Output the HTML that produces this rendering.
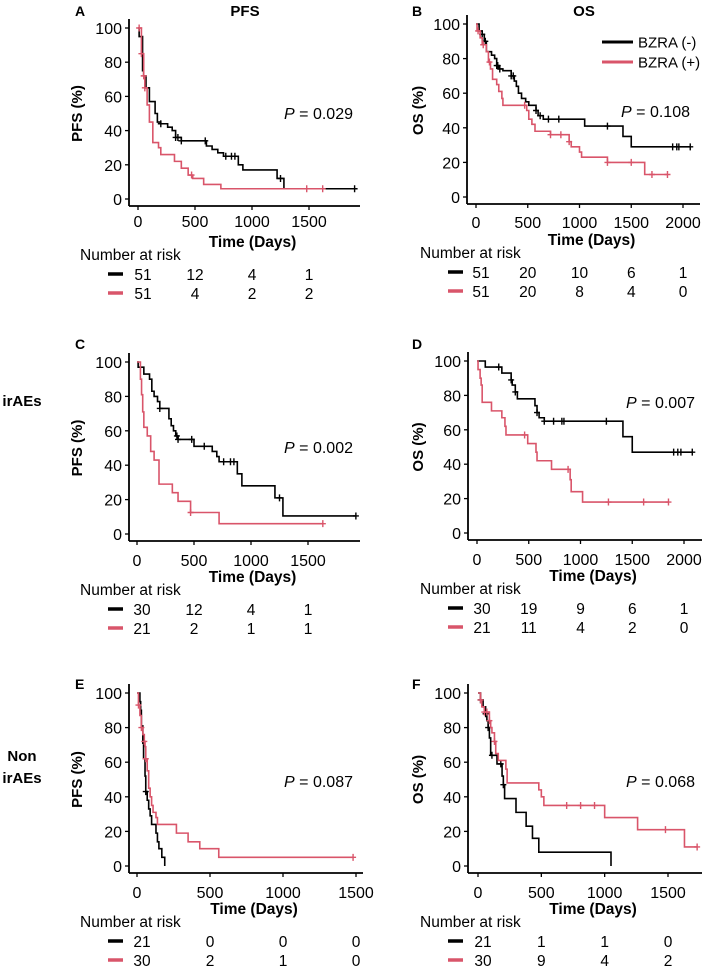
<!DOCTYPE html>
<html><head><meta charset="utf-8"><style>
html,body{margin:0;padding:0;background:#fff}
svg{display:block;font-family:"Liberation Sans",Arial,sans-serif}
</style></head><body>
<svg id="fig" width="709" height="969" viewBox="0 0 709 969" xmlns="http://www.w3.org/2000/svg">
<text x="245" y="16" text-anchor="middle" font-size="15" font-weight="bold">PFS</text>
<text x="584" y="16" text-anchor="middle" font-size="15" font-weight="bold">OS</text>
<text x="22" y="406" text-anchor="middle" font-size="15" font-weight="bold">irAEs</text>
<text x="22" y="761" text-anchor="middle" font-size="15" font-weight="bold">Non</text>
<text x="22" y="783" text-anchor="middle" font-size="15" font-weight="bold">irAEs</text>
<g>
<line x1="602" y1="42" x2="633" y2="42" stroke="#000" stroke-width="3"/>
<text x="638" y="47.5" font-size="15">BZRA (-)</text>
<line x1="602" y1="62" x2="633" y2="62" stroke="#d9556a" stroke-width="3"/>
<text x="638" y="67.5" font-size="15">BZRA (+)</text>
</g>
</svg>
<script>
// ---- Data (time in days, survival in %) ----
const aBlackT=[0,10,40,50,70,100,150,170,200,260,300,330,380,600,650,700,750,880,920,1220,1280,1900];
const aBlackS=[100,95,75,72,65,57,50,45,44,42,40,36,34,31,29,27,25,20,17,12,6,6];
const aBlackC=[200,330,350,380,590,770,820,850,1250,1900];
const aRedT=[0,30,50,60,80,100,130,180,200,320,380,440,480,576,727,1620];
const aRedS=[100,85,72,65,55,45,33,30,26,22,18,14,12,8.5,6,6];
const aRedC=[10,30,50,60,470,1480,1620];

const bBlackT=[0,30,60,80,100,150,180,200,220,260,340,370,390,410,440,480,510,580,600,650,1050,1420,1500,2070];
const bBlackS=[100,96,94,90,84,82,80,76,74,73,70,67,64,60,57,55,53,50,47,45,41,35,29,29];
const bBlackC=[60,90,200,210,230,340,360,580,620,700,800,1270,1900,1940,1960,2070];
const bRedT=[0,10,40,60,100,120,140,160,200,220,250,260,490,510,540,570,720,900,920,1000,1020,1270,1630,1850];
const bRedS=[100,96,92,88,84,78,74,68,65,61,57,53,50,45,42,38,36,32,29,26,23,20,13,13];
const bRedC=[20,70,130,470,720,820,900,1270,1500,1700,1850];

const cBlackT=[0,10,60,110,130,150,180,200,280,300,320,340,360,500,660,700,720,880,920,1210,1280,1920];
const cBlackS=[100,97,93,90,83,80,77,73,67,63,60,57,55,51,48,45,42,35,28,21,10.5,10.5];
const cBlackC=[200,350,360,480,590,760,820,850,1250,1920];
const cRedT=[0,30,40,50,60,90,120,150,193,310,360,470,720,1630];
const cRedS=[100,90,81,71,62,57,48,43,29,24,19,12.5,6,6];
const cRedC=[470,1630];

const dBlackT=[0,80,240,330,340,370,390,560,580,600,650,1410,1500,2080];
const dBlackS=[100,96.5,93,89,86,82,78,74,70,67,65,56,47,47];
const dBlackC=[210,330,370,580,650,740,820,840,1250,1900,1940,1970,2080];
const dRedT=[0,10,30,40,50,140,240,270,280,490,570,580,720,900,910,1020,1850];
const dRedS=[100,95,90,86,76,71,67,62,57,52,47,42,37,31,24,18,18];
const dRedC=[460,880,1270,1610,1850];

const eBlackT=[0,20,25,30,40,45,55,60,70,80,90,100,130,140,150,170,190];
const eBlackS=[100,95,90,81,71,62,52,43,38,33,29,24,19,14,10,5,0];
const eBlackC=[60];
const eRedT=[0,10,20,30,40,50,55,60,70,80,90,100,110,130,140,270,350,430,560,1480];
const eRedS=[100,93,87,80,76,72,69,62,55,45,40,35,31,28,24,19,14,10,5,5];
const eRedC=[10,30,50,60,1480];

const fBlackT=[0,20,40,60,70,80,90,100,150,190,200,210,300,380,430,480,1050];
const fBlackS=[100,96,92,88,84,80,74,64,59,52,47,39,31,23,16,8,0];
const fBlackC=[20,60,80,110,180,200];
const fRedT=[0,20,30,50,90,100,110,130,140,160,220,230,480,500,520,1000,1260,1630,1730];
const fRedS=[100,96,92,89,84,80,77,72,65,61,56,48,44,40,35,28,21,11,11];
const fRedC=[20,50,70,90,130,700,810,920,1480,1730];

const riskA=[[51,12,4,1],[51,4,2,2]];
const riskB=[[51,20,10,6,1],[51,20,8,4,0]];
const riskC=[[30,12,4,1],[21,2,1,1]];
const riskD=[[30,19,9,6,1],[21,11,4,2,0]];
const riskE=[[21,0,0,0],[30,2,1,0]];
const riskF=[[21,1,1,0],[30,9,4,2]];

const ticks1500=[0,500,1000,1500];
const ticks2000=[0,500,1000,1500,2000];
const yTicks=[0,20,40,60,80,100];
const pvals=["0.029","0.108","0.002","0.007","0.087","0.068"];
</script>
<script>
const NS="http://www.w3.org/2000/svg";
const svg=document.getElementById('fig');
const RED="#d9556a";
function mk(tag,attrs,parent){const e=document.createElementNS(NS,tag);for(const k in attrs)e.setAttribute(k,attrs[k]);(parent||svg).appendChild(e);return e;}

const panels=[
 {id:'a',letter:'A',lx:75,ly:16,yax:129,x0:138,ppd:57/500,y100:28,y0:199,xEnd:360,ticks:ticks1500,ytitle:'PFS (%)',ytx:82,b:[aBlackT,aBlackS,aBlackC],r:[aRedT,aRedS,aRedC],risk:riskA,p:pvals[0],px:353,py:119,tOff:22,nx:80},
 {id:'b',letter:'B',lx:412,ly:16,yax:467,x0:476,ppd:207/2000,y100:24,y0:197,xEnd:700,ticks:ticks2000,ytitle:'OS (%)',ytx:423,b:[bBlackT,bBlackS,bBlackC],r:[bRedT,bRedS,bRedC],risk:riskB,p:pvals[1],px:690,py:117,tOff:25,nx:420},
 {id:'c',letter:'C',lx:75,ly:349,yax:129,x0:137,ppd:57/500,y100:362,y0:534,xEnd:360,ticks:ticks1500,ytitle:'PFS (%)',ytx:82,b:[cBlackT,cBlackS,cBlackC],r:[cRedT,cRedS,cRedC],risk:riskC,p:pvals[2],px:353,py:453,tOff:26,nx:80},
 {id:'d',letter:'D',lx:412,ly:349,yax:468,x0:477,ppd:207/2000,y100:361,y0:533,xEnd:702,ticks:ticks2000,ytitle:'OS (%)',ytx:423,b:[dBlackT,dBlackS,dBlackC],r:[dRedT,dRedS,dRedC],risk:riskD,p:pvals[3],px:695,py:408,tOff:26,nx:420},
 {id:'e',letter:'E',lx:75,ly:689,yax:129,x0:137,ppd:73/500,y100:693,y0:866,xEnd:363,ticks:ticks1500,ytitle:'PFS (%)',ytx:82,b:[eBlackT,eBlackS,eBlackC],r:[eRedT,eRedS,eRedC],risk:riskE,p:pvals[4],px:353,py:787,tOff:26,nx:80},
 {id:'f',letter:'F',lx:412,ly:689,yax:468,x0:478,ppd:190/1500,y100:693,y0:866,xEnd:702,ticks:ticks1500,ytitle:'OS (%)',ytx:423,b:[fBlackT,fBlackS,fBlackC],r:[fRedT,fRedS,fRedC],risk:riskF,p:pvals[5],px:695,py:787,tOff:26,nx:420}
];

function stepAt(T,S,t){let s=S[0];for(let i=0;i<T.length;i++){if(T[i]<=t)s=S[i];else break;}return s;}

panels.forEach(P=>{
 const g=mk('g',{});
 
 
 const X=t=>P.x0+t*P.ppd;
 const Y=s=>P.y0-(P.y0-P.y100)*s/100;
 const xAxisY=P.y0+7;
 const lt=mk('text',{x:P.lx,y:P.ly,'font-size':14,'font-weight':'bold'},g);lt.textContent=P.letter;
 
 
 const ya=mk('line',{x1:P.yax,y1:P.y100-9,x2:P.yax,y2:xAxisY,stroke:'#000','stroke-width':1.8},g);
 
 
 const xa=mk('line',{x1:P.yax,y1:xAxisY,x2:P.xEnd,y2:xAxisY,stroke:'#000','stroke-width':1.8},g);
 
 
 yTicks.forEach(v=>{
  mk('line',{x1:P.yax-4,y1:Y(v),x2:P.yax,y2:Y(v),stroke:'#000','stroke-width':1.3},g);
  const tl=mk('text',{x:P.yax-7,y:Y(v)+6,'text-anchor':'end','font-size':16},g);tl.textContent=v;
  
  
 });
 P.ticks.forEach(v=>{
  mk('line',{x1:X(v),y1:xAxisY,x2:X(v),y2:xAxisY+4,stroke:'#000','stroke-width':1.3},g);
  const tl=mk('text',{x:X(v),y:P.y0+P.tOff+6,'text-anchor':'middle','font-size':16},g);tl.textContent=v;
  
  
 });
 const xt=mk('text',{x:(P.yax+P.xEnd)/2+8,y:P.y0+48,'text-anchor':'middle','font-size':15.5,'font-weight':'bold'},g);xt.textContent='Time (Days)';
 
 
 const cy=(P.y0+P.y100)/2;
 const yt=mk('text',{x:P.ytx,y:cy,'text-anchor':'middle','font-size':15,'font-weight':'bold',transform:`rotate(-90 ${P.ytx} ${cy})`},g);yt.textContent=P.ytitle;
 
 
 const pt=mk('text',{x:P.px,y:P.py,'text-anchor':'end','font-size':16},g);
 pt.innerHTML='<tspan font-style="italic">P</tspan> = '+P.p;
 
 
 [[P.b,'#000','bzra-neg'],[P.r,RED,'bzra-pos']].forEach(([cur,col,nm])=>{
  const [T,S,C]=cur;
  let d=`M${X(T[0])},${Y(S[0])}`;
  for(let i=1;i<T.length;i++){d+=` H${X(T[i])} V${Y(S[i])}`;}
  const path=mk('path',{d:d,fill:'none',stroke:col,'stroke-width':1.6},g);
  
  
  C.forEach(t=>{
   const cx=X(t),cyy=Y(stepAt(T,S,t));
   const cm=mk('path',{d:`M${cx},${cyy-3.5} V${cyy+3.5} M${cx-3},${cyy} H${cx+3}`,stroke:col,'stroke-width':1.4},g);
   
   
  });
 });
 const nt=mk('text',{x:P.nx,y:P.y0+61,'font-size':15.5},g);nt.textContent='Number at risk';
 
 
 P.risk.forEach((row,ri)=>{
  const ry=P.y0+75+ri*19;
  const col=ri===0?'#000':RED;
  const sw=mk('line',{x1:P.nx+28,y1:ry,x2:P.nx+43,y2:ry,stroke:col,'stroke-width':3.5},g);
  
  
  row.forEach((v,i)=>{
   const tx=mk('text',{x:X(P.ticks[i])+(i===0?5:0),y:ry+6,'text-anchor':'middle','font-size':15.5},g);tx.textContent=v;
   
   
  });
 });
});
</script>
</body></html>
